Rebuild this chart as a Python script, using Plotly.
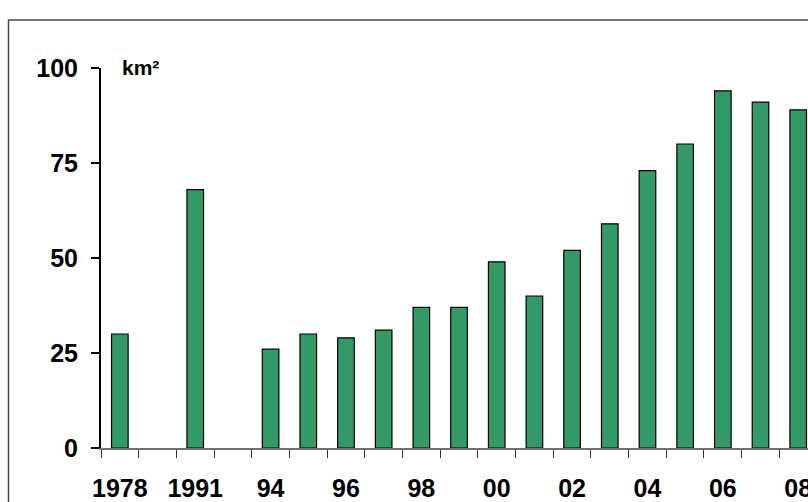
import plotly.graph_objects as go

# Surface area per survey year (km²); empty slots mark gaps between surveys
categories = ["1978", "gap1", "1991", "gap2", "1994", "1995", "1996", "1997", "1998",
              "1999", "2000", "2001", "2002", "2003", "2004", "2005", "2006", "2007", "2008"]
values = [30, None, 68, None, 26, 30, 29, 31, 37, 37, 49, 40, 52, 59, 73, 80, 94, 91, 89]
tick_labels = ["1978", "", "1991", "", "94", "", "96", "", "98", "", "00", "", "02", "",
               "04", "", "06", "", "08"]
y_ticks = [0, 25, 50, 75, 100]

W, H = 808, 502
L, R, T, B = 101, 0, 68, 54

fig = go.Figure(go.Bar(
    x=categories,
    y=values,
    marker=dict(color="#339966", line=dict(color="black", width=1.2)),
    width=0.44,
))

bold = dict(family="Liberation Sans, Arial, sans-serif", size=25, color="black", weight="bold")

fig.update_layout(
    width=W, height=H,
    margin=dict(l=L, r=R, t=T, b=B, pad=0),
    template="none",
    paper_bgcolor="white",
    plot_bgcolor="white",
    showlegend=False,
    xaxis=dict(
        type="category",
        categoryorder="array",
        categoryarray=categories,
        tickvals=categories,
        ticktext=tick_labels,
        tickson="boundaries",
        tickangle=0,
        range=[-0.5, 18.26],
        showgrid=False,
        zeroline=False,
        showline=True,
        linecolor="#707070",
        linewidth=1.5,
        ticks="outside",
        ticklen=8,
        tickwidth=1,
        tickcolor="#333333",
        tickfont=bold,
        ticklabelstandoff=17,
        automargin=False,
    ),
    yaxis=dict(
        range=[0, 100],
        tickvals=y_ticks,
        ticktext=[str(v) for v in y_ticks],
        showgrid=False,
        zeroline=False,
        showline=True,
        linecolor="black",
        linewidth=2,
        ticks="outside",
        ticklen=8,
        tickwidth=2,
        tickcolor="black",
        tickfont=bold,
        ticklabelstandoff=8,
        automargin=False,
    ),
)

# unit label next to the top of the value axis
fig.add_annotation(
    text="km²", xref="paper", yref="paper",
    x=(120 - L) / (W - L - R), y=(H - B - 54) / (H - T - B),
    xanchor="left", yanchor="top", showarrow=False,
    font=dict(family="Liberation Sans, Arial, sans-serif", size=21, color="black", weight="bold"),
)

# outer frame of the chart
pw, ph = W - L - R, H - T - B
fig.add_shape(
    type="rect", xref="paper", yref="paper",
    x0=(8.5 - L) / pw, x1=(W + 20 - L) / pw,
    y0=(H - B - (H + 20)) / ph, y1=(H - B - 20) / ph,
    line=dict(color="#4a4a4a", width=1.5), fillcolor="rgba(0,0,0,0)",
    layer="below",
)

fig.write_html("out.html")
